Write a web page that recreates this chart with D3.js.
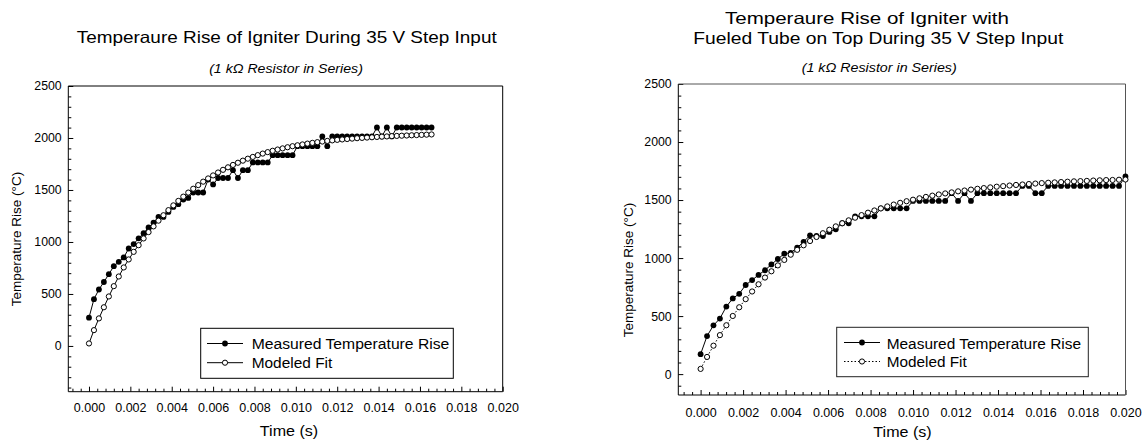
<!DOCTYPE html>
<html><head><meta charset="utf-8">
<script src="https://cdn.jsdelivr.net/npm/d3@7"></script>
<style>
body{margin:0;background:#fff}
svg text{font-family:"Liberation Sans",Arial,sans-serif;fill:#000}
</style>
</head><body>
<script>
// ---------------- DATA ----------------
const leftTime = [0,0.00024,0.00048,0.00072,0.00096,0.0012,0.00144,0.00168,0.00192,0.00216,0.0024,0.00264,0.00288,0.00312,0.00336,0.0036,0.00384,0.00408,0.00432,0.00456,0.0048,0.00504,0.00528,0.00552,0.00576,0.006,0.00624,0.00648,0.00672,0.00696,0.0072,0.00744,0.00768,0.00792,0.00816,0.0084,0.00864,0.00888,0.00912,0.00936,0.0096,0.00984,0.01008,0.01032,0.01056,0.0108,0.01104,0.01128,0.01152,0.01176,0.012,0.01224,0.01248,0.01272,0.01296,0.0132,0.01344,0.01368,0.01392,0.01416,0.0144,0.01464,0.01488,0.01512,0.01536,0.0156,0.01584,0.01608,0.01632,0.01656];
const leftMeasured = [272,450,543,615,690,767,809,851,937,980,1035,1085,1140,1186,1241,1241,1289,1337,1363,1408,1424,1476,1476,1476,1600,1553,1615,1615,1615,1690,1615,1690,1690,1765,1765,1765,1765,1835,1835,1835,1835,1835,1921,1921,1921,1921,1921,2015,1921,2015,2015,2015,2015,2015,2015,2015,2015,2015,2101,2015,2101,2015,2101,2101,2101,2101,2101,2101,2101,2101];
const leftModel = [24,152,265,372,476,575,668,755,832,905,969,1034,1095,1150,1205,1257,1306,1352,1395,1436,1475,1512,1547,1580,1611,1640,1668,1694,1718,1741,1762,1782,1801,1818,1835,1850,1864,1877,1889,1900,1911,1921,1930,1938,1946,1953,1960,1966,1972,1977,1982,1986,1990,1994,1998,2001,2004,2007,2010,2013,2015,2018,2020,2022,2024,2026,2028,2030,2032,2034];

const rightTime = [0,0.000303,0.000606,0.000909,0.001212,0.001515,0.001818,0.002121,0.002424,0.002727,0.00303,0.003333,0.003636,0.003939,0.004242,0.004545,0.004848,0.005151,0.005454,0.005757,0.00606,0.006363,0.006666,0.006969,0.007272,0.007575,0.007878,0.008181,0.008484,0.008787,0.00909,0.009393,0.009696,0.009999,0.010302,0.010605,0.010908,0.011211,0.011514,0.011817,0.01212,0.012423,0.012726,0.013029,0.013332,0.013635,0.013938,0.014241,0.014544,0.014847,0.01515,0.015453,0.015756,0.016059,0.016362,0.016665,0.016968,0.017271,0.017574,0.017877,0.01818,0.018483,0.018786,0.019089,0.019392,0.019695,0.019998];
const rightMeasured = [172,328,420,479,582,652,692,768,810,855,895,945,992,1038,1045,1090,1140,1196,1190,1190,1225,1248,1300,1300,1360,1360,1360,1360,1429,1429,1429,1429,1429,1492,1492,1492,1492,1492,1492,1559,1492,1559,1492,1559,1559,1559,1559,1559,1559,1559,1622,1622,1559,1559,1622,1622,1622,1622,1622,1622,1622,1622,1622,1622,1622,1622,1703];
const rightModel = [45,148,245,336,421,501,576,646,712,774,832,886,937,984,1029,1071,1110,1147,1182,1214,1244,1273,1300,1325,1348,1370,1391,1410,1428,1445,1461,1476,1490,1503,1515,1527,1538,1548,1557,1566,1575,1582,1590,1597,1603,1609,1615,1620,1625,1630,1634,1638,1642,1646,1649,1652,1655,1658,1661,1663,1665,1668,1670,1672,1673,1675,1677];

const yTickValues = [0,500,1000,1500,2000,2500];
const xTickValues = [0,0.002,0.004,0.006,0.008,0.010,0.012,0.014,0.016,0.018,0.020];
const legendLabels = ["Measured Temperature Rise","Modeled Fit"];
const leftTitle = ["Temperaure Rise of Igniter During 35 V Step Input"];
const rightTitle = ["Temperaure Rise of Igniter with","Fueled Tube on Top During 35 V Step Input"];
const subTitle = "(1 k\u03A9 Resistor in Series)";
const xTitle = "Time (s)";
const yTitle = "Temperature Rise (\u00B0C)";

// ---------------- DRAW ----------------
const svg = d3.select("body").append("svg").attr("width",1143).attr("height",444);

function fitText(g, x, y, str, fs, len, anchor, italic){
  const t = g.append("text").attr("x",x).attr("y",y).attr("text-anchor",anchor||"start")
    .style("font-size",fs+"px").text(str);
  if (len) t.attr("textLength",len).attr("lengthAdjust","spacingAndGlyphs");
  if (italic) t.style("font-style","italic");
  return t;
}

function drawChart(c){
  const x = d3.scaleLinear().domain(c.xDomain).range(c.xRange);
  const y = d3.scaleLinear().domain(c.yDomain).range(c.yRange);
  const g = svg.append("g");

  const yMinor = d3.range(Math.ceil(c.yDomain[0]/100)*100, c.yDomain[1]+1, 100).filter(v=>v%500!==0);
  const xMinor = d3.range(-0.0008, 0.02001, 0.0004).filter(v=>Math.abs(Math.round(v/0.002)*0.002 - v) > 1e-7);

  const yMinAx = g.append("g").attr("transform",`translate(${c.xRange[0]},0)`)
    .call(d3.axisLeft(y).tickValues(yMinor).tickSize(-3).tickFormat(""));
  const xMinAx = g.append("g").attr("transform",`translate(0,${c.yRange[0]})`)
    .call(d3.axisBottom(x).tickValues(xMinor).tickSize(-3).tickFormat(""));
  const yAx = g.append("g").attr("transform",`translate(${c.xRange[0]},0)`)
    .call(d3.axisLeft(y).tickValues(yTickValues).tickSize(-5).tickPadding(6.6).tickFormat(d3.format("d")));
  const xAx = g.append("g").attr("transform",`translate(0,${c.yRange[0]})`)
    .call(d3.axisBottom(x).tickValues(xTickValues).tickSize(-5).tickPadding(6).tickFormat(d3.format(".3f")));
  [yMinAx,xMinAx,yAx,xAx].forEach(a=>{a.select(".domain").remove(); a.selectAll("line").attr("stroke","#000");});
  yAx.selectAll("text").style("font-size","12.3px").attr("font-family",null);
  xAx.selectAll("text").style("font-size","12.5px").attr("font-family",null)
    .attr("dy",null).attr("y", c.xLabelBase - c.yRange[0]);

  const [xl,xr] = c.xRange, [yb,yt] = c.yRange;
  g.append("line").attr("x1",xl).attr("x2",xl).attr("y1",yt).attr("y2",yb).attr("stroke","#000");
  g.append("line").attr("x1",xl).attr("x2",xr).attr("y1",yb).attr("y2",yb).attr("stroke","#000");
  g.append("line").attr("x1",xl).attr("x2",xr).attr("y1",yt).attr("y2",yt).attr("stroke",c.frameColor);
  g.append("line").attr("x1",xr).attr("x2",xr).attr("y1",yt).attr("y2",yb).attr("stroke",c.frameColor);

  const measured = c.time.map((t,i)=>({t, v:c.measured[i]}));
  const model = c.time.map((t,i)=>({t, v:c.model[i]}));
  const line = d3.line().x(d=>x(d.t)).y(d=>y(d.v));
  g.append("path").datum(measured).attr("d",line).attr("fill","none").attr("stroke","#000").attr("stroke-width",1);
  g.selectAll(null).data(measured).enter().append("circle")
    .attr("cx",d=>x(d.t)).attr("cy",d=>y(d.v)).attr("r",2.9).attr("fill","#000");
  const mp = g.append("path").datum(model).attr("d",line).attr("fill","none").attr("stroke","#000").attr("stroke-width",1);
  if (c.modelDash) mp.attr("stroke-dasharray",c.modelDash);
  g.selectAll(null).data(model).enter().append("circle")
    .attr("cx",d=>x(d.t)).attr("cy",d=>y(d.v)).attr("r",2.6).attr("fill","#fff").attr("stroke","#000").attr("stroke-width",1);

  c.titles.forEach((tt,i)=>fitText(g, tt.x, tt.y, c.titleText[i], 16.5, tt.len, "middle"));
  fitText(g, c.sub.x, c.sub.y, subTitle, 12, c.sub.len, "middle", true);
  fitText(g, c.xt.x, c.xt.y, xTitle, 14, 58.3, "middle");
  g.append("text").attr("transform",`translate(${c.yt.x},${c.yt.y}) rotate(-90)`)
    .attr("text-anchor","middle").style("font-size","13.5px").text(yTitle);

  const L = c.legend;
  g.append("rect").attr("x",L.x).attr("y",L.y).attr("width",L.w).attr("height",L.h)
    .attr("fill","#fff").attr("stroke",L.stroke).attr("stroke-width",1);
  legendLabels.forEach((lab,i)=>{
    const cy = L.rows[i];
    const ln = g.append("line").attr("x1",L.lx1).attr("x2",L.lx2).attr("y1",cy).attr("y2",cy).attr("stroke","#000");
    if (i===1 && c.modelDash) ln.attr("stroke-dasharray",c.modelDash);
    const cx = (L.lx1+L.lx2)/2;
    if (i===0) g.append("circle").attr("cx",cx).attr("cy",cy).attr("r",2.9).attr("fill","#000");
    else g.append("circle").attr("cx",cx).attr("cy",cy).attr("r",2.6).attr("fill","#fff").attr("stroke","#000");
    fitText(g, L.tx, L.base[i], lab, 14, L.lens[i], "start");
  });
}

drawChart({
  xDomain:[-0.001,0.020], xRange:[68.3,502.7],
  yDomain:[-440,2500], yRange:[391.7,86],
  xLabelBase:412, frameColor:"#000",
  time:leftTime, measured:leftMeasured, model:leftModel, modelDash:null,
  titleText:leftTitle, titles:[{x:286.7,y:42.5,len:420}],
  sub:{x:286,y:72.5,len:153.7},
  xt:{x:289,y:436},
  yt:{x:21,y:239},
  legend:{x:200.7,y:328.3,w:252.6,h:50,stroke:"#000",rows:[343.5,362.7],lx1:207,lx2:243,tx:251.7,base:[349,368],lens:[197.6,80.6]}
});

drawChart({
  xDomain:[-0.00105,0.020], xRange:[678.3,1125.5],
  yDomain:[-180,2500], yRange:[395,84],
  xLabelBase:416.5, frameColor:"#555",
  time:rightTime, measured:rightMeasured, model:rightModel, modelDash:"1.5,2",
  titleText:rightTitle, titles:[{x:867,y:23.5,len:284},{x:878.3,y:43.5,len:370}],
  sub:{x:879.2,y:72,len:155},
  xt:{x:902.5,y:437},
  yt:{x:633,y:270},
  legend:{x:836.7,y:327.3,w:251.6,h:49.4,stroke:"#222",rows:[342.5,361.5],lx1:844,lx2:880,tx:886.7,base:[348.5,367.3],lens:[194.3,80]}
});
</script>
</body></html>
